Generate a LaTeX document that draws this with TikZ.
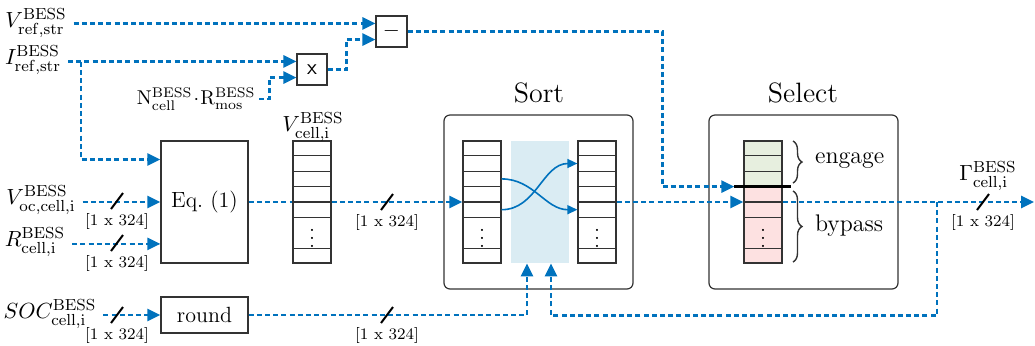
\documentclass[tikz,border=0pt]{standalone}
\usepackage{amsmath}
\usetikzlibrary{arrows.meta,calc,backgrounds,decorations.pathreplacing}

\definecolor{sigblue}{RGB}{0,114,189}
\definecolor{bandblue}{RGB}{218,236,243}
\definecolor{engfill}{RGB}{231,239,223}
\definecolor{bypfill}{RGB}{253,225,225}

\begin{document}
\begin{tikzpicture}[
  >={Triangle[length=6.5pt,width=6pt]},
  x=0.5pt, y=-0.5pt,
  font=\fontsize{11}{13}\selectfont,
  blk/.style={draw=black!80, line width=0.6pt, fill=white, inner sep=0pt},
  frame/.style={draw=black!80, line width=0.6pt, rounded corners=3pt, minimum width=94.5pt, minimum height=87pt},
  arr/.style={draw=black!80, line width=0.6pt, minimum width=19pt, minimum height=61pt, inner sep=0pt},
  row/.style={draw=black!80, line width=0.6pt},
  sig/.style={->, draw=sigblue, line width=1.3pt, dash pattern=on 2.5pt off 1.6pt},   % dashed signal
  swp/.style={-{Triangle[length=5pt,width=4.5pt]}, draw=sigblue, line width=0.8pt},  % sorting swap
  bus/.style={draw=black, line width=1pt},
  dim/.style={font=\footnotesize, inner sep=1pt},
  ttl/.style={font=\fontsize{14}{16}\selectfont},
  brc/.style={decorate, decoration={brace,amplitude=4.5pt}, draw=black!80, line width=0.7pt},
  side/.style={anchor=west, font=\fontsize{12}{14}\selectfont},
]
\useasboundingbox (0,0) rectangle (1035,345);

% ============================== blocks ==============================
\node[blk, minimum width=15.5pt, minimum height=15.5pt] (minus) at (391.5,31.5) {$-$};
\node[blk, minimum width=15pt, minimum height=15.5pt, font=\sffamily\fontsize{11}{13}\selectfont] (mult) at (312,69.5) {x};
\node[blk, minimum width=43.5pt, minimum height=61pt] (eq) at (204.5,202) {Eq.~(1)};
\node[blk, minimum width=43.5pt, minimum height=18pt] (rnd) at (204.5,315) {round};

\node[frame] (sort) at (538.5,202) {};
\node[frame] (select) at (803.5,202) {};
\node[ttl] (sortT) at (539,93) {Sort};
\node[ttl] (selT) at (803,93) {Select};

\node[minimum width=29pt, minimum height=61pt, fill=bandblue, inner sep=0pt] (band) at (540,202) {};

% ============================== cell arrays ==============================
\node[arr] (vcell) at (312,202) {};
\node[arr] (sortL) at (482,202) {};
\node[arr] (sortR) at (597,202) {};
\node[arr] (selarr) at (763,202) {};

\begin{scope}[on background layer]
  \fill[engfill] (selarr.north west) rectangle ($(selarr.north east)!3/8!(selarr.south east)$);
  \fill[bypfill] ($(selarr.north west)!3/8!(selarr.south west)$) rectangle (selarr.south east);
\end{scope}

\foreach \a in {vcell,sortL,sortR,selarr}{
  \foreach \k in {1,...,5,7}{
    \draw[row] ($(\a.north west)!\k/8!(\a.south west)$) -- ($(\a.north east)!\k/8!(\a.south east)$);
  }
  \node[inner sep=0pt] (dots\a) at ($(\a.north)!0.75!(\a.south)$) {$\vdots$};
}

% threshold between engaged and bypassed cells
\coordinate (thr) at ($(selarr.north west)!3/8!(selarr.south west)+(-9,0)$);
\coordinate (thrEnd) at ($(selarr.north east)!3/8!(selarr.south east)+(8,0)$);
\draw[line width=1.5pt] (thr) -- (thrEnd);

\draw[brc] (793,141) -- (793,183);
\draw[brc] (793,191) -- (793,262);
\node[side] (engage) at (808,161) {engage};
\node[side] (bypass) at (808,226) {bypass};

% ============================== labels ==============================
\node (lVref) at (36,23) {$V^{\mathrm{BESS}}_{\mathrm{ref,str}}$};
\node (lIref) at (33,60) {$I^{\mathrm{BESS}}_{\mathrm{ref,str}}$};
\node[anchor=east, inner sep=1.5pt, font=\fontsize{10}{12}\selectfont] (lNR) at (259,99)
  {$\mathrm{N}^{\mathrm{BESS}}_{\mathrm{cell}}\!\cdot\!\mathrm{R}^{\mathrm{BESS}}_{\mathrm{mos}}$};
\node (lVoc) at (41,200) {$V^{\mathrm{BESS}}_{\mathrm{oc,cell,i}}$};
\node (lRcell) at (35,242) {$R^{\mathrm{BESS}}_{\mathrm{cell,i}}$};
\node (lSOC) at (50,314) {$SOC^{\mathrm{BESS}}_{\mathrm{cell,i}}$};
\node (lVcell) at (313,127) {$V^{\mathrm{BESS}}_{\mathrm{cell,i}}$};
\node (lGamma) at (988,176) {$\Gamma^{\mathrm{BESS}}_{\mathrm{cell,i}}$};

% ============================== ports ==============================
\coordinate (minusA) at ($(minus.north west)!0.25!(minus.south west)$);
\coordinate (minusB) at ($(minus.north west)!0.75!(minus.south west)$);
\coordinate (multA) at ($(mult.north west)!0.25!(mult.south west)$);
\coordinate (multB) at ($(mult.north west)!0.75!(mult.south west)$);
\coordinate (eqA) at ($(eq.north west)!0.155!(eq.south west)$);
\coordinate (eqC) at ($(eq.north west)!0.84!(eq.south west)$);
\coordinate (bandA) at ($(band.south)+(-13,0)$);
\coordinate (bandB) at ($(band.south)+(11,0)$);
\coordinate (brI) at (81,61.75);
\coordinate (brO) at (937,202);
\coordinate (outEnd) at (1034,202);

% ============================== signals ==============================
\draw[sig] (lVref.east |- minusA) -- (minusA);
\draw[sig] (lIref.east |- multA) -- (multA);
\draw[sig] (lNR.east) -| ($(multB)+(-27,0)$) -- (multB);
\draw[sig] (mult.east) -| ($(minusB)+(-29,0)$) -- (minusB);
\draw[sig] (minus.east) -| ($(thr)+(-72,0)$) -- (thr);
\draw[sig] (brI) |- (eqA);
\draw[sig] (lVoc.east |- eq.west) -- (eq.west);
\draw[sig] (lRcell.east |- eqC) -- (eqC);
\draw[sig] (lSOC.east |- rnd.west) -- (rnd.west);
\draw[sig] (eq.east) -- (vcell.west) (vcell.east) -- (sortL.west);
\draw[sig] (sortR.east) -- (selarr.west);
\draw[sig] (selarr.east) -- (outEnd);
\draw[sig] (brO) |- ($(bandB)+(0,52)$) -- (bandB);
\draw[sig] (rnd.east) -| (bandA);

% sorting swaps
\draw[swp] ($(sortL.north east)!2.5/8!(sortL.south east)$) to[out=0,in=180] ($(sortR.north west)!4.5/8!(sortR.south west)$);
\draw[swp] ($(sortL.north east)!4.5/8!(sortL.south east)$) to[out=0,in=180] ($(sortR.north west)!1.5/8!(sortR.south west)$);

% bus width marks
\foreach \n/\px/\py in {a/117/201, b/117/243, c/117/315, d/387/202, e/387/315, f/983/202}{
  \draw[bus] (\px-6,\py+8) -- (\px+6,\py-8);
  \node[dim] (dim\n) at (\px,\py+20) {[1 x 324]};
}
\end{tikzpicture}
\end{document}
